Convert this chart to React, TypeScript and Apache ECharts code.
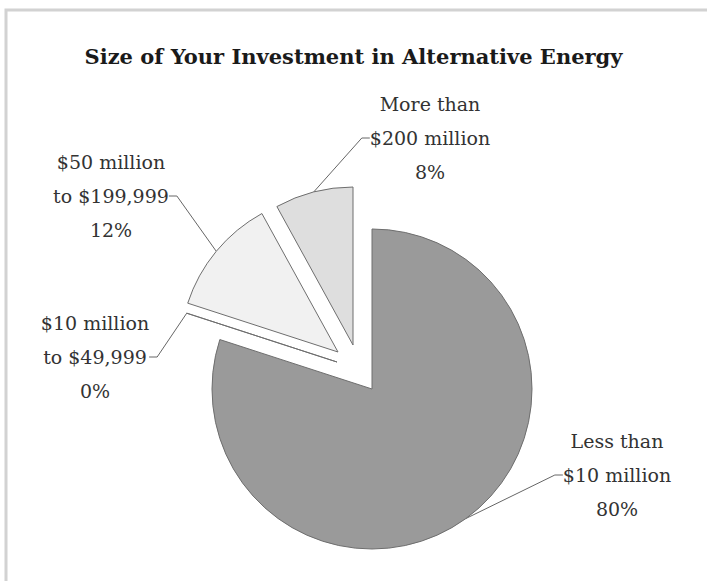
import React, { useEffect, useRef } from "react";
import * as echarts from "echarts";

const titleText = "Size of Your Investment in Alternative Energy";
const categories = [
  "Less than\n$10 million",
  "$10 million\nto $49,999",
  "$50 million\nto $199,999",
  "More than\n$200 million",
];
const shares = [80, 0, 12, 8];
const fills = ["#9a9a9a", "#ffffff", "#f1f1f1", "#dedede"];
// each slice is exploded on its own, so each one gets its own centre
const centers = [
  [372, 389],
  [337, 362],
  [338, 352],
  [353, 345],
];
const radii = [160, 158, 158, 158];
const labelPositions = [
  [617, 475],
  [95, 357],
  [111, 196],
  [430, 138],
];

const FONT = "DejaVu Serif";

export default function App() {
  const ref = useRef<HTMLDivElement>(null);
  useEffect(() => {
    if (!ref.current) return;
    const chart = echarts.init(ref.current, undefined, { renderer: "svg" });
    const series = categories.map((_, i) => ({
      type: "pie",
      name: categories[i],
      center: centers[i],
      radius: radii[i],
      startAngle: 90,
      clockwise: true,
      minAngle: 0,
      avoidLabelOverlap: false,
      silent: true,
      z: 2 + i,
      label: {
        position: "outside",
        formatter: (p: any) => `${p.name}\n${p.value}%`,
        fontFamily: FONT,
        fontSize: 19,
        lineHeight: 34,
        color: "#333",
        align: "center",
      },
      labelLine: {
        length: 8,
        length2: 8,
        lineStyle: { color: "#666", width: 1 },
      },
      labelLayout: {
        x: labelPositions[i][0],
        y: labelPositions[i][1],
        align: "center",
        verticalAlign: "middle",
      },
      emphasis: { disabled: true },
      data: categories.map((name, j) => ({
        name,
        value: shares[j],
        itemStyle:
          j === i
            ? { color: fills[i], borderColor: "#6e6e6e", borderWidth: 1 }
            : { color: "rgba(0,0,0,0)", borderWidth: 0 },
        label: { show: j === i },
        labelLine: { show: j === i },
      })),
    }));
    chart.setOption({
      animation: false,
      backgroundColor: "#ffffff",
      title: {
        text: titleText,
        left: "center",
        top: 41,
        textStyle: {
          fontFamily: FONT,
          fontWeight: "bold",
          fontSize: 21,
          color: "#1a1a1a",
        },
      },
      graphic: [
        {
          type: "rect",
          z: -10,
          shape: { x: 6, y: 10, width: 800, height: 700 },
          style: { fill: "none", stroke: "#d2d2d2", lineWidth: 3 },
        },
      ],
      series,
    });
    return () => chart.dispose();
  }, []);
  return (
    <div
      ref={ref}
      style={{ position: "fixed", left: 0, top: 0, width: 707, height: 581 }}
    />
  );
}
